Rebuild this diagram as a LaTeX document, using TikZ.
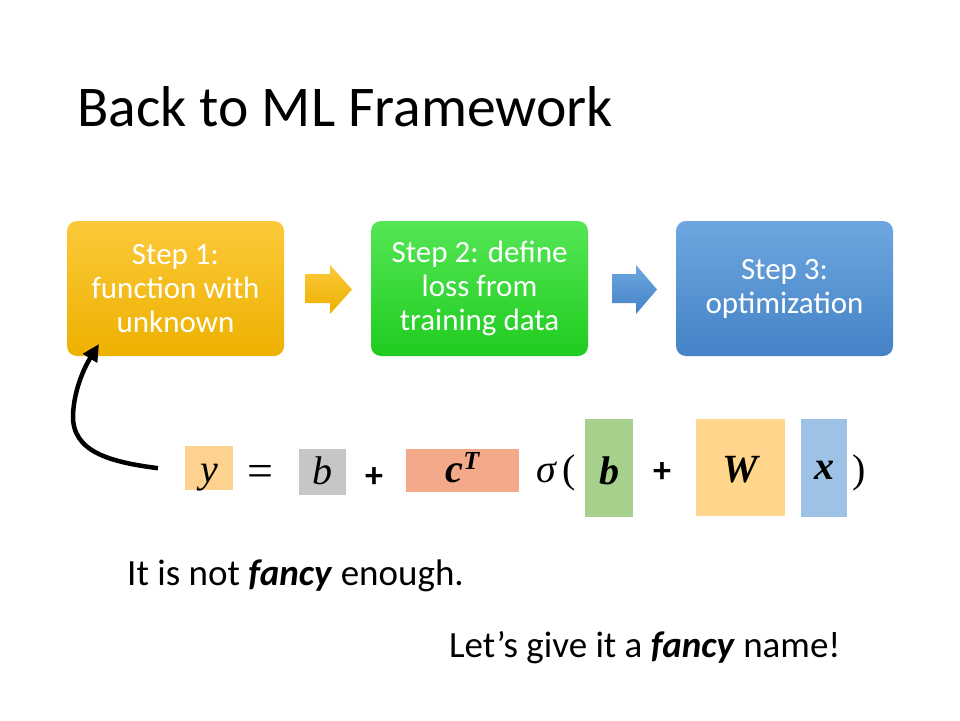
\documentclass[tikz,border=0pt]{standalone}
\usepackage{fontspec}
\setmainfont{Carlito}
\newfontfamily\eqfont{Liberation Serif}
\usetikzlibrary{arrows.meta}

\definecolor{stepA1}{HTML}{FCC93A}
\definecolor{stepA2}{HTML}{EDB100}
\definecolor{stepB1}{HTML}{55E655}
\definecolor{stepB2}{HTML}{1FCC1F}
\definecolor{stepC1}{HTML}{6EA7E0}
\definecolor{stepC2}{HTML}{4482C6}
\definecolor{ycol}{HTML}{FED28E}
\definecolor{bcol}{HTML}{C6C6C6}
\definecolor{ccol}{HTML}{F4AA8A}
\definecolor{gcol}{HTML}{A8D08D}
\definecolor{wcol}{HTML}{FFD68C}
\definecolor{xcol}{HTML}{9DC2E6}

\tikzset{
  stepbox/.style={rounded corners=10pt, minimum width=217pt, minimum height=135pt,
    align=center, text=white, inner sep=0pt,
    font=\fontsize{31}{34}\selectfont},
  termbox/.style={inner sep=0pt, anchor=north west},
  eqtext/.style={font=\eqfont\fontsize{40}{46}\selectfont, inner sep=0pt, anchor=base},
  plustext/.style={font=\fontsize{36}{40}\selectfont\bfseries, inner sep=0pt},
  bodytext/.style={font=\fontsize{37}{44}\selectfont, inner sep=0pt, anchor=base west},
}

\begin{document}
\begin{tikzpicture}[x=1pt, y=-1pt]
\useasboundingbox[fill=white] (0,0) rectangle (960,720);

% title
\node[anchor=base west, inner sep=0pt, font=\fontsize{57.6}{70}\selectfont] (title) at (77,126) {Back to ML Framework};

% the three steps
\node[stepbox, top color=stepA1, bottom color=stepA2] (s1) at (175.5,288.5)
  {Step 1:\\function with\\unknown};
\node[stepbox, top color=stepB1, bottom color=stepB2] (s2) at (479.5,288.5)
  {Step 2: define\\loss from\\training data};
\node[stepbox, top color=stepC1, bottom color=stepC2] (s3) at (784.5,288.5)
  {Step 3:\\optimization};

% block arrows between the steps
\shade[top color=stepA1, bottom color=stepA2]
  (305,274) -- (330,274) -- (330,265) -- (352,289.5) -- (330,314) -- (330,303) -- (305,303) -- cycle;
\shade[top color=stepC1, bottom color=stepC2]
  (612,274) -- (636,274) -- (636,265) -- (657,289.5) -- (636,314) -- (636,303) -- (612,303) -- cycle;

% the equation: coloured blocks
\node[fill=ycol, minimum width=48pt, minimum height=44pt, termbox] (ty) at (185,446) {};
\node[fill=bcol, minimum width=47pt, minimum height=46pt, termbox] (tb) at (299,449) {};
\node[fill=ccol, minimum width=113pt, minimum height=43pt, termbox] (tc) at (406,449) {};
\node[fill=gcol, minimum width=48pt, minimum height=98pt, termbox] (tg) at (585,419) {};
\node[fill=wcol, minimum width=89pt, minimum height=97pt, termbox] (tw) at (696,419) {};
\node[fill=xcol, minimum width=46pt, minimum height=98pt, termbox] (tx) at (801,419) {};

% the equation: symbols
\node[eqtext] (vy) at (209,482) {\itshape y};
\node[eqtext, font=\eqfont\fontsize{46}{50}\selectfont] (eq) at (260,486) {=};
\node[eqtext] (vb) at (322.5,484) {\itshape b};
\node[plustext] (p1) at (374,478) {+};
\node[eqtext] (vc) at (462.5,482) {\bfseries\itshape c\raisebox{13pt}{\fontsize{26}{30}\selectfont\itshape T}};
\node[eqtext] (sig) at (556,482) {\itshape σ\upshape\,(};
\node[eqtext] (vg) at (609,484) {\bfseries\itshape b};
\node[plustext] (p2) at (662,473) {+};
\node[eqtext] (vw) at (740.5,482) {\bfseries\itshape W};
\node[eqtext] (vx) at (824,479) {\bfseries\itshape x};
\node[eqtext] (rp) at (859,482) {)};

% curved arrow back to step 1
\coordinate (tail) at ([xshift=-27pt]ty.west);
\coordinate (tip) at (99,344);
\draw[line width=4.5pt, -{Triangle[length=17pt, width=16pt]}]
  (tail) .. controls (110,462) and (72,452) .. (73,415) .. controls (74,390) and (84,368) .. (tip);

% remarks
\node[bodytext] (r1) at (127,585) {It is not \textbf{\itshape fancy} enough.};
\node[bodytext] (r2) at (449,657) {Let’s give it a \textbf{\itshape fancy} name!};
\end{tikzpicture}
\end{document}
